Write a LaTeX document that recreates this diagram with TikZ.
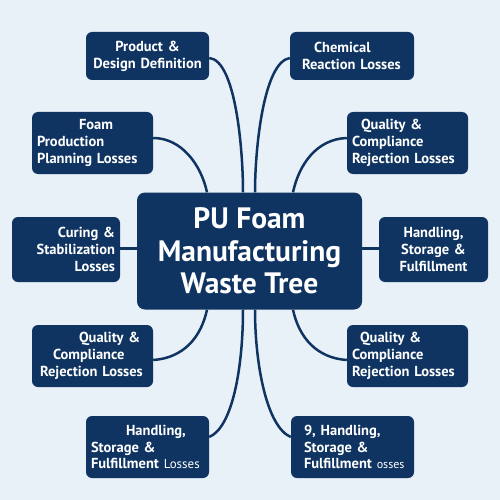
\documentclass[tikz,border=0pt]{standalone}
\usepackage{fontspec}
\setmainfont{PT Sans}
\definecolor{navy}{HTML}{0F3461}
\definecolor{bg}{HTML}{E8F0F8}
\begin{document}
\begin{tikzpicture}[x=1pt,y=-1pt,
  box/.style={fill=navy, rounded corners=6pt, text=white,
    font=\fontsize{14.5}{16.8}\selectfont\bfseries, inner xsep=5pt, inner ysep=0pt},
  title/.style={fill=navy, rounded corners=8pt, text=white, align=center,
    font=\fontsize{29.5}{32.5}\selectfont\bfseries, minimum width=225pt, minimum height=117pt, inner sep=0pt},
  conn/.style={draw=navy, line width=2.5pt}]
\fill[bg] (0,0) rectangle (500,500);
\useasboundingbox (0,0) rectangle (500,500);

\node[title] (c) at (249.5,251) {PU Foam\\Manufacturing\\Waste Tree};

\node[box, text width=113pt, minimum height=48pt, align=center] (n1) at (147.5,56) {Product \&\\Design Definition};
\node[box, text width=111pt, minimum height=62pt, align=left] (n2) at (92.5,143) {\hspace*{42pt}Foam\\Production\\Planning Losses};
\node[box, text width=98pt, minimum height=65pt, align=right] (n3) at (66,249.5) {Curing \&\\Stabilization\\Losses};
\node[box, text width=111pt, minimum height=62pt, align=left] (n4) at (92.5,356) {\hspace*{42pt}Quality \&\\\hspace*{16pt}Compliance\\\hspace*{3pt}Rejection Losses};
\node[box, text width=113pt, minimum height=62pt, align=left] (n5) at (147.5,447) {\hspace*{35pt}Handling,\\Storage \&\\Fulfillment {\fontsize{13}{16.8}\selectfont\mdseries Losses}};

\node[box, text width=114pt, minimum height=48pt, align=left] (n6) at (352,56) {\hspace*{19pt}Chemical\\\hspace*{7pt}Reaction Losses};
\node[box, text width=111pt, minimum height=62pt, align=left] (n7) at (407.5,143) {\hspace*{9pt}Quality \&\\Compliance\\Rejection Losses};
\node[box, text width=99pt, minimum height=65pt, align=center] (n8) at (433.5,249.5) {Handling,\\Storage \&\\Fulfillment};
\node[box, text width=111pt, minimum height=62pt, align=left] (n9) at (407.5,356) {\hspace*{8pt}Quality \&\\Compliance\\Rejection Losses};
\node[box, text width=113pt, minimum height=62pt, align=left] (n10) at (352.5,447) {\hspace*{8pt}9, Handling,\\\hspace*{8pt}Storage \&\\\hspace*{8pt}Fulfillment {\fontsize{12}{16.8}\selectfont\mdseries osses}};

\draw[conn] ([yshift=-2pt]n1.east) .. controls +(26,2) and +(0,-45) .. ([xshift=-6.5pt]c.north);
\draw[conn] ([yshift=5pt]n2.east) .. controls +(28,0) and +(-6,-28) .. ([xshift=-42.5pt]c.north);
\draw[conn] ([yshift=1pt]n3.east) -- ([yshift=1pt]n3.east -| c.west);
\draw[conn] ([yshift=-4pt]n4.east) .. controls +(30,-2) and +(-6,28) .. ([xshift=-42.5pt]c.south);
\draw[conn] ([yshift=10pt]n5.east) .. controls +(24,-10) and +(0,55) .. ([xshift=-6.5pt]c.south);

\draw[conn] ([yshift=-2pt]n6.west) .. controls +(-26,4) and +(0,-45) .. ([xshift=5.5pt]c.north);
\draw[conn] ([yshift=5pt]n7.west) .. controls +(-30,1) and +(6,-28) .. ([xshift=43.5pt]c.north);
\draw[conn] ([yshift=1pt]n8.west) -- ([yshift=1pt]n8.west -| c.east);
\draw[conn] ([yshift=-4pt]n9.west) .. controls +(-30,-2) and +(6,28) .. ([xshift=43.5pt]c.south);
\draw[conn] ([yshift=10pt]n10.west) .. controls +(-24,-10) and +(0,55) .. ([xshift=5.5pt]c.south);
\end{tikzpicture}
\end{document}
